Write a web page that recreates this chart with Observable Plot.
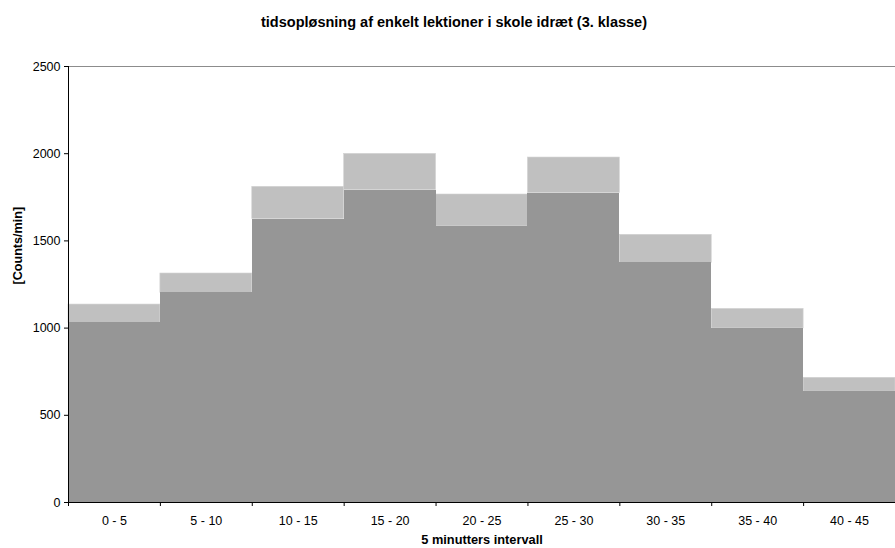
<!DOCTYPE html>
<html>
<head>
<meta charset="utf-8">
<script src="https://cdn.jsdelivr.net/npm/d3@7"></script>
<script src="https://cdn.jsdelivr.net/npm/@observablehq/plot@0.6"></script>
<style>
  html, body { margin: 0; padding: 0; background: #fff; }
  body { width: 895px; height: 548px; overflow: hidden; font-family: "Liberation Sans", Arial, sans-serif; }
  #title { height: 44px; line-height: 44px; font-size: 14.5px; font-weight: bold; text-align: center; width: 908px; color: #000; }
  svg { display: block; }
</style>
</head>
<body>
<div id="title">tidsopløsning af enkelt lektioner i skole idræt (3. klasse)</div>
<div id="chart"></div>
<script>
const categories = ["0 - 5", "5 - 10", "10 - 15", "15 - 20", "20 - 25", "25 - 30", "30 - 35", "35 - 40", "40 - 45"];
const meanValues = [1030, 1202, 1625, 1791, 1583, 1774, 1374, 998, 636];
const upperValues = [1135, 1313, 1810, 1999, 1766, 1978, 1535, 1110, 715];
const yTicks = [0, 500, 1000, 1500, 2000, 2500];
const xLabel = "5 minutters intervall";
const yLabel = "[Counts/min]";

const data = categories.map((c, i) => {
  const [a, b] = c.split(" - ").map(Number);
  return {c, x1: a, x2: b, mid: (a + b) / 2, mean: meanValues[i], upper: upperValues[i]};
});
const edges = [data[0].x1, ...data.map(d => d.x2)];

const chart = Plot.plot({
  width: 895,
  height: 504,
  marginTop: 22,
  marginBottom: 46,
  marginLeft: 68,
  marginRight: 0,
  style: {fontFamily: "'Liberation Sans', Arial, sans-serif", fontSize: "12.5px", color: "#000", background: "#fff"},
  x: {domain: [edges[0], edges[edges.length - 1]]},
  y: {domain: [0, 2500]},
  marks: [
    Plot.rectY(data, {x1: "x1", x2: "x2", y1: "mean", y2: "upper", fill: "#c0c0c0", stroke: "#d2d2d2", strokeWidth: 0.6}),
    Plot.rectY(data, {x1: "x1", x2: "x2", y1: 0, y2: "mean", fill: "#969696", shapeRendering: "crispEdges"}),
    Plot.ruleY([2500], {stroke: "#8c8c8c", strokeWidth: 1}),
    Plot.ruleY([0], {stroke: "#000", strokeWidth: 1}),
    Plot.ruleX([edges[0]], {stroke: "#000", strokeWidth: 1}),
    Plot.axisY({ticks: yTicks, tickSize: 4, tickPadding: 4, tickFormat: d => String(d), label: null}),
    Plot.axisX({ticks: edges, tickSize: 4, tickFormat: () => "", label: null}),
    Plot.axisX({ticks: data.map(d => d.mid), tickSize: 0, tickPadding: 14, tickFormat: (d, i) => categories[i], label: null}),
    Plot.text([xLabel], {frameAnchor: "bottom", dy: 41, text: d => d, fontWeight: "bold", fontSize: 12.8}),
    Plot.text([yLabel], {frameAnchor: "left", dx: -51, rotate: -90, text: d => d, fontWeight: "bold", fontSize: 12.6})
  ]
});
document.getElementById("chart").appendChild(chart);
</script>
</body>
</html>
